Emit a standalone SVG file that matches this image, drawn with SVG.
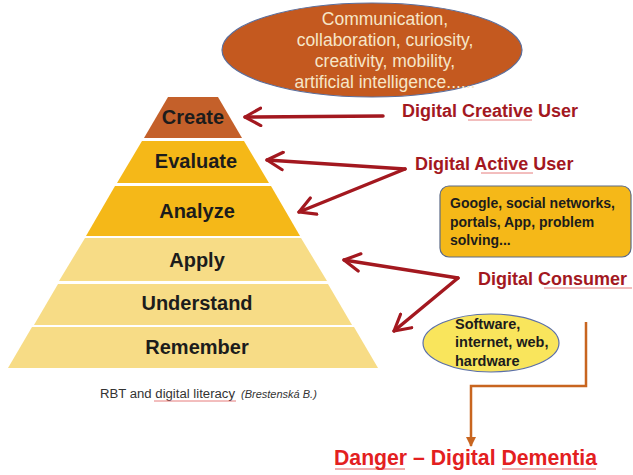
<svg xmlns="http://www.w3.org/2000/svg" width="633" height="475" viewBox="0 0 633 475">
<defs>
<style>
.lvl{font-family:"Liberation Sans",Arial,sans-serif;font-weight:bold;font-size:20px;fill:#1c1c1c;text-anchor:middle}
.ell{font-family:"Liberation Sans",Arial,sans-serif;font-size:17.5px;fill:#f6e6c8;text-anchor:middle}
.role{font-family:"Liberation Sans",Arial,sans-serif;font-weight:bold;font-size:18px;fill:#a3181f}
.box{font-family:"Liberation Sans",Arial,sans-serif;font-weight:bold;font-size:14px;fill:#1c1c1c}
.red{stroke:#a3181f;stroke-width:3.5;fill:none;stroke-linecap:round;stroke-linejoin:round}
.sq{stroke:#e05a5a;stroke-width:0.8;fill:none}
</style>
<marker id="vh" viewBox="0 0 12 12" refX="10" refY="6" markerWidth="6" markerHeight="6" orient="auto-start-reverse" markerUnits="strokeWidth">
<path d="M1,1 L10,6 L1,11" fill="none" stroke="#a3181f" stroke-width="1.8" stroke-linecap="round" stroke-linejoin="round"/>
</marker>
<marker id="oh" viewBox="0 0 10 10" refX="9" refY="5" markerWidth="4" markerHeight="4" orient="auto" markerUnits="strokeWidth">
<path d="M0,0 L10,5 L0,10 Z" fill="#c8651f"/>
</marker>
</defs>
<rect width="633" height="475" fill="#ffffff"/>

<g id="pyramid">
<g id="create"><polygon points="168,97 218,97 242,138 144,138" fill="#c4602a"/><text class="lvl" x="193" y="124">Create</text></g>
<g id="evaluate"><polygon points="142,141 244,141 269,183 117,183" fill="#f5b818"/><text class="lvl" x="196" y="168">Evaluate</text></g>
<g id="analyze"><polygon points="115,186 271,186 300,236 86,236" fill="#f5b818"/><text class="lvl" x="197" y="218">Analyze</text></g>
<g id="apply"><polygon points="85,238 301,238 327,281 59,281" fill="#f7dc86"/><text class="lvl" x="197" y="267">Apply</text></g>
<g id="understand"><polygon points="58,284 328,284 352,325 34,325" fill="#f7dc86"/><text class="lvl" x="197" y="310">Understand</text></g>
<g id="remember"><polygon points="32,327 354,327 378,368 8,368" fill="#f7dc86"/><text class="lvl" x="197" y="354">Remember</text></g>
</g>

<g id="skills">
<ellipse cx="372" cy="50" rx="150" ry="47" fill="#c4591f" stroke="#5b6e9c" stroke-width="1.2"/>
<text class="ell" x="385" y="25">Communication,</text>
<text class="ell" x="385" y="46">collaboration, curiosity,</text>
<text class="ell" x="385" y="67">creativity, mobility,</text>
<text class="ell" x="385" y="88">artificial intelligence......</text>
</g>

<g id="creative-user"><text class="role" x="402" y="117">Digital Creative User</text><path class="sq" d="M468,120 h64"/></g>
<g id="active-user"><text class="role" x="415" y="170">Digital Active User</text><path class="sq" d="M481,173 h52"/></g>
<g id="consumer"><text class="role" x="478" y="285">Digital Consumer</text><path class="sq" d="M544,288 h88"/></g>

<g id="google-box">
<rect x="440" y="186" width="191" height="71" rx="9" fill="#f5b818" stroke="#5c6a86" stroke-width="1.2"/>
<text class="box" x="450" y="208">Google, social networks,</text>
<text class="box" x="450" y="227">portals, App, problem</text>
<text class="box" x="450" y="245">solving...</text>
</g>

<g id="software">
<ellipse cx="491" cy="343" rx="68" ry="29" fill="#f9e55c" stroke="#5b6fa8" stroke-width="1.2"/>
<text class="box" x="455" y="329" style="font-size:14.5px">Software,</text>
<text class="box" x="455" y="347" style="font-size:14.5px">internet, web,</text>
<text class="box" x="455" y="366" style="font-size:14.5px">hardware</text>
</g>

<g id="dementia">
<text x="334" y="465" style="font-family:'Liberation Sans',Arial,sans-serif;font-weight:bold;font-size:22px;fill:#e3201f" textLength="263" lengthAdjust="spacingAndGlyphs">Danger – Digital Dementia</text>
<path class="sq" d="M335,469 h70 M502,469 h94" style="stroke:#d83030"/>
</g>

<g id="caption">
<text x="100" y="398" style="font-family:'Liberation Sans',Arial,sans-serif;font-size:12px;fill:#333333" textLength="135" lengthAdjust="spacingAndGlyphs">RBT and digital literacy</text>
<text x="241" y="398" style="font-family:'Liberation Sans',Arial,sans-serif;font-style:italic;font-size:11px;fill:#333333">(Brestenská B.)</text>
<path class="sq" d="M154,401 h82"/>
</g>

<g id="connectors">
<path class="red" d="M383,116 L245,117" marker-end="url(#vh)"/>
<path class="red" d="M405,169 L267,160" marker-end="url(#vh)"/>
<path class="red" d="M405,169 L299,212" marker-end="url(#vh)"/>
<path class="red" d="M458,278 L344,260" marker-end="url(#vh)"/>
<path class="red" d="M458,278 L394,331" marker-end="url(#vh)"/>
<path d="M586,322 L586,386 L471,386 L471,446" fill="none" stroke="#c8651f" stroke-width="2.5" marker-end="url(#oh)"/>
</g>
</svg>
